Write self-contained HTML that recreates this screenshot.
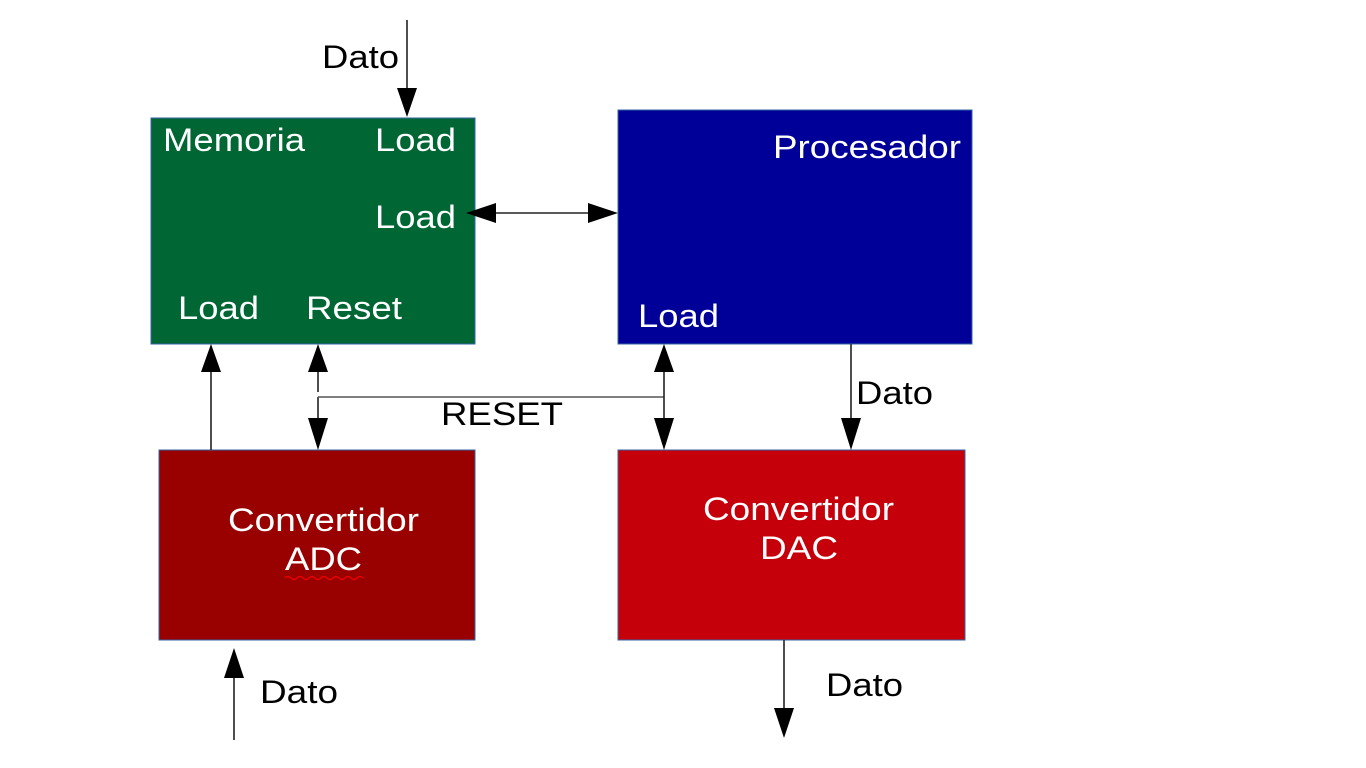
<!DOCTYPE html>
<html><head><meta charset="utf-8"><style>
html,body{margin:0;padding:0;background:#fff;width:1366px;height:768px;overflow:hidden}
svg text{font-family:"Liberation Sans",sans-serif;font-size:32px}
</style></head><body>
<svg width="1366" height="768" viewBox="0 0 1366 768" xmlns="http://www.w3.org/2000/svg">
<rect x="151" y="118" width="324" height="226" fill="#006633" stroke="#3465a4" stroke-width="1"/>
<rect x="618" y="110" width="354" height="234" fill="#000099" stroke="#3465a4" stroke-width="1"/>
<rect x="159" y="450" width="316" height="190" fill="#990000" stroke="#3465a4" stroke-width="1"/>
<rect x="618" y="450" width="347" height="190" fill="#c5000b" stroke="#3465a4" stroke-width="1"/>
<g fill="#fff">
<text x="163" y="151" textLength="142" lengthAdjust="spacingAndGlyphs">Memoria</text>
<text x="375" y="151" textLength="81" lengthAdjust="spacingAndGlyphs">Load</text>
<text x="375" y="228" textLength="81" lengthAdjust="spacingAndGlyphs">Load</text>
<text x="178" y="319" textLength="81" lengthAdjust="spacingAndGlyphs">Load</text>
<text x="306" y="319" textLength="96" lengthAdjust="spacingAndGlyphs">Reset</text>
<text x="773" y="158" textLength="188" lengthAdjust="spacingAndGlyphs">Procesador</text>
<text x="638" y="327" textLength="81" lengthAdjust="spacingAndGlyphs">Load</text>
<text x="228" y="531" textLength="191" lengthAdjust="spacingAndGlyphs">Convertidor</text>
<text x="285" y="570" textLength="77" lengthAdjust="spacingAndGlyphs">ADC</text>
<text x="703" y="520" textLength="191" lengthAdjust="spacingAndGlyphs">Convertidor</text>
<text x="760" y="559" textLength="78" lengthAdjust="spacingAndGlyphs">DAC</text>
</g>
<path d="M285 578 q3 -3 6 0 t6 0 t6 0 t6 0 t6 0 t6 0 t6 0 t6 0 t6 0 t6 0 t6 0 t6 0 t6 0" stroke="#e00" stroke-width="1.3" fill="none"/>
<g fill="#000">
<text x="322" y="68" textLength="77" lengthAdjust="spacingAndGlyphs">Dato</text>
<text x="441" y="425" textLength="122" lengthAdjust="spacingAndGlyphs">RESET</text>
<text x="856" y="404" textLength="77" lengthAdjust="spacingAndGlyphs">Dato</text>
<text x="260" y="703" textLength="78" lengthAdjust="spacingAndGlyphs">Dato</text>
<text x="826" y="696" textLength="77" lengthAdjust="spacingAndGlyphs">Dato</text>
</g>
<g stroke="#222" stroke-width="1.6" fill="none">
<line x1="407" y1="20" x2="407" y2="90"/>
<line x1="490" y1="213" x2="595" y2="213"/>
<line x1="211" y1="450" x2="211" y2="370"/>
<line x1="318" y1="372" x2="318" y2="392"/>
<line x1="318" y1="397" x2="318" y2="420"/>
<line x1="318" y1="397" x2="664" y2="397" stroke="#555"/>
<line x1="664" y1="372" x2="664" y2="420"/>
<line x1="851" y1="344" x2="851" y2="420"/>
<line x1="234" y1="740" x2="234" y2="676"/>
<line x1="784" y1="640" x2="784" y2="710"/>
</g>
<g fill="#000">
<polygon points="397,88 417,88 407,117"/>
<polygon points="466,213 496,203 496,223"/>
<polygon points="618,213 588,203 588,223"/>
<polygon points="211,344 201,372 221,372"/>
<polygon points="318,344 308,372 328,372"/>
<polygon points="318,450 308,418 328,418"/>
<polygon points="664,344 654,372 674,372"/>
<polygon points="664,450 654,418 674,418"/>
<polygon points="851,450 841,418 861,418"/>
<polygon points="234,648 224,678 244,678"/>
<polygon points="784,738 774,708 794,708"/>
</g>
</svg>
</body></html>
